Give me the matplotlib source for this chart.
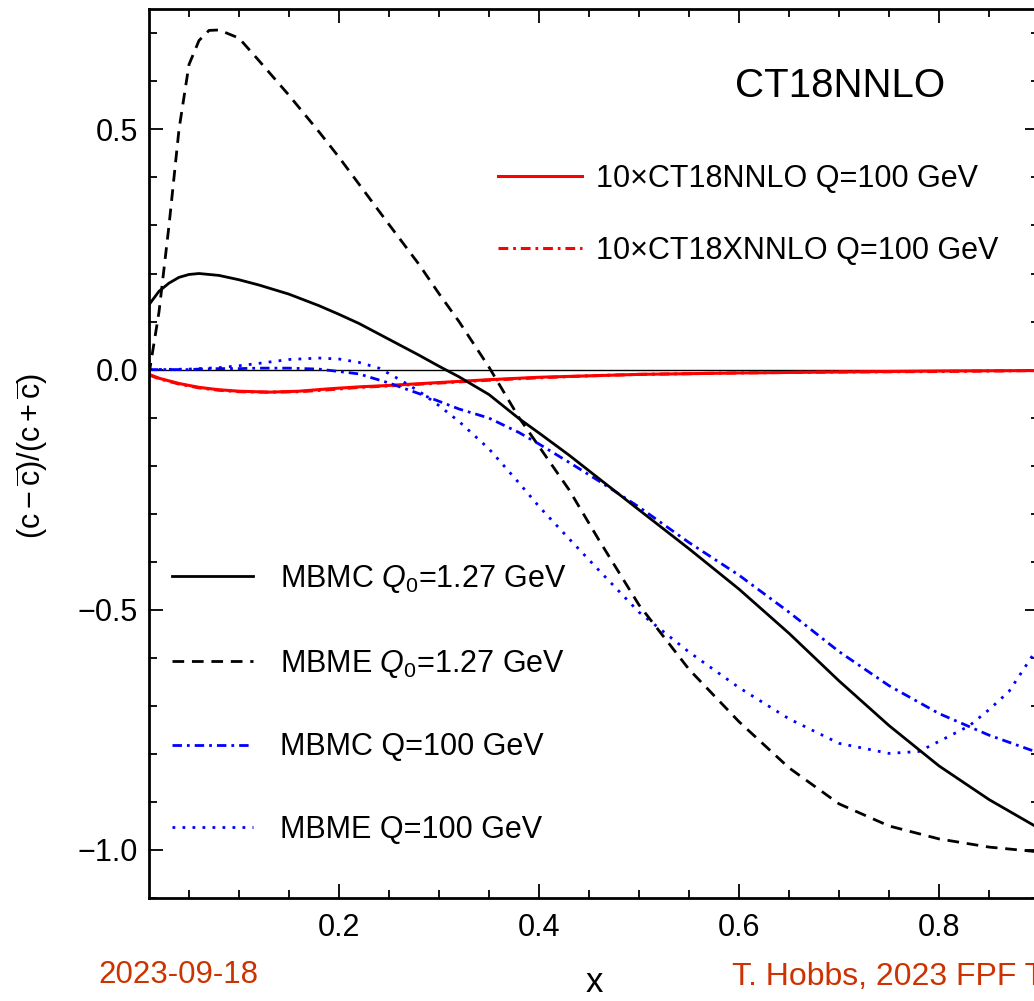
import numpy as np
import matplotlib.pyplot as plt
from matplotlib.lines import Line2D
from matplotlib.ticker import MultipleLocator, FixedLocator

plt.rcParams['font.family'] = ['Liberation Sans', 'DejaVu Sans']
plt.rcParams['mathtext.fontset'] = 'custom'
plt.rcParams['mathtext.rm'] = 'Liberation Sans'
plt.rcParams['mathtext.it'] = 'Liberation Sans:italic'
plt.rcParams['mathtext.bf'] = 'Liberation Sans:bold'

### Values: (c - cbar)/(c + cbar) vs x

x_grid = [0.01, 0.02, 0.03, 0.04, 0.05, 0.06, 0.08, 0.10, 0.12, 0.15, 0.18,
          0.20, 0.22, 0.25, 0.28, 0.30, 0.32, 0.35, 0.38, 0.40, 0.43, 0.46,
          0.50, 0.55, 0.60, 0.65, 0.70, 0.75, 0.80, 0.85, 0.90]

mbmc_q0 = [0.135, 0.163, 0.180, 0.192, 0.198, 0.200, 0.196, 0.187, 0.176, 0.157, 0.133,
           0.115, 0.096, 0.063, 0.030, 0.007, -0.015, -0.052, -0.102, -0.132, -0.178, -0.227,
           -0.292, -0.373, -0.457, -0.549, -0.648, -0.741, -0.825, -0.895, -0.955]

mbme_x = [0.01, 0.02, 0.03, 0.04, 0.05, 0.06, 0.07, 0.08, 0.10, 0.12, 0.15, 0.18,
          0.20, 0.22, 0.25, 0.28, 0.30, 0.32, 0.35, 0.38, 0.40, 0.43, 0.46,
          0.50, 0.55, 0.60, 0.65, 0.70, 0.75, 0.80, 0.85, 0.90]
mbme_q0 = [-0.010, 0.120, 0.300, 0.500, 0.635, 0.685, 0.706, 0.707, 0.690, 0.643, 0.571, 0.495,
           0.442, 0.386, 0.302, 0.219, 0.158, 0.100, 0.005, -0.100, -0.160, -0.250, -0.355,
           -0.490, -0.624, -0.733, -0.829, -0.904, -0.950, -0.977, -0.994, -1.004]

mbmc_q100 = [0.0, 0.0, 0.0, 0.0, 0.0, 0.001, 0.002, 0.002, 0.003, 0.003, 0.001,
             -0.004, -0.009, -0.028, -0.050, -0.066, -0.082, -0.101, -0.131, -0.155, -0.193, -0.232,
             -0.286, -0.360, -0.428, -0.505, -0.587, -0.658, -0.716, -0.761, -0.798]

mbme_q100_x = [0.01, 0.05, 0.08, 0.10, 0.12, 0.15, 0.18, 0.20, 0.22, 0.24, 0.26, 0.28,
               0.30, 0.32, 0.35, 0.38, 0.40, 0.43, 0.46, 0.50, 0.55, 0.60, 0.65, 0.70,
               0.75, 0.78, 0.80, 0.83, 0.85, 0.87, 0.90]
mbme_q100 = [0.0, 0.001, 0.004, 0.008, 0.013, 0.021, 0.024, 0.022, 0.015, 0.003, -0.020, -0.045,
             -0.075, -0.108, -0.165, -0.236, -0.285, -0.352, -0.418, -0.505, -0.588, -0.662, -0.727, -0.778,
             -0.799, -0.795, -0.774, -0.742, -0.708, -0.670, -0.575]

red_x = [0.01, 0.02, 0.04, 0.06, 0.08, 0.10, 0.13, 0.16, 0.19, 0.22, 0.25,
         0.30, 0.35, 0.40, 0.45, 0.50, 0.60, 0.70, 0.80, 0.90]
ct18nnlo = [-0.010, -0.018, -0.029, -0.037, -0.042, -0.045, -0.047, -0.045, -0.040, -0.036, -0.033,
            -0.027, -0.021, -0.016, -0.013, -0.010, -0.007, -0.005, -0.003, -0.002]
ct18xnnlo = [-0.011, -0.019, -0.030, -0.038, -0.043, -0.046, -0.047, -0.046, -0.042, -0.037, -0.034,
             -0.028, -0.022, -0.017, -0.013, -0.010, -0.007, -0.005, -0.004, -0.002]

### Figure

W, H = 1034, 1001
fig = plt.figure(figsize=(W / 100, H / 100), dpi=100)
ax = fig.add_axes([149 / W, 1 - 898 / H, 890 / W, 888.7 / H])

ax.axhline(0, color='black', linewidth=1.0, zorder=1)

ax.plot(red_x, ct18xnnlo, color='red', linewidth=2.2, linestyle=(0, (3.2, 1.6, 0.9, 1.6)))
ax.plot(red_x, ct18nnlo, color='red', linewidth=2.2)
ax.plot(x_grid, mbmc_q100, color='blue', linewidth=2.0, linestyle=(0, (3.4, 1.8, 1.0, 1.8)))
ax.plot(mbme_q100_x, mbme_q100, color='blue', linewidth=2.0, linestyle=(0, (1.0, 2.6)))
ax.plot(x_grid, mbmc_q0, color='black', linewidth=2.0)
ax.plot(mbme_x, mbme_q0, color='black', linewidth=2.0, linestyle=(0, (4.2, 2.8)))

ax.set_xlim(0.01, 0.9)
ax.set_ylim(-1.1, 0.75)

ax.xaxis.set_major_locator(FixedLocator([0.2, 0.4, 0.6, 0.8]))
ax.xaxis.set_minor_locator(MultipleLocator(0.05))
ax.yaxis.set_major_locator(FixedLocator([-1.0, -0.5, 0.0, 0.5]))
ax.yaxis.set_minor_locator(MultipleLocator(0.1))
ax.xaxis.set_major_formatter(lambda v, p: f"{v:.1f}")
ax.yaxis.set_major_formatter(lambda v, p: f"{v:.1f}".replace('-', '\u2212'))

ax.tick_params(which='both', direction='in', top=True, right=True, labelsize=22, width=1.3)
ax.tick_params(which='major', length=10)
ax.tick_params(which='minor', length=6)
ax.tick_params(axis='y', pad=8)
ax.tick_params(axis='x', pad=11)
for s in ax.spines.values():
    s.set_linewidth(2.0)

### Legends

h_black = [
    Line2D([], [], color='black', linewidth=2.0),
    Line2D([], [], color='black', linewidth=2.0, linestyle=(0, (4.2, 2.8))),
    Line2D([], [], color='blue', linewidth=2.0, linestyle=(0, (3.4, 1.8, 1.0, 1.8))),
    Line2D([], [], color='blue', linewidth=2.0, linestyle=(0, (1.0, 2.6))),
]
l_black = ['MBMC $Q_0$=1.27 GeV', 'MBME $Q_0$=1.27 GeV', 'MBMC Q=100 GeV', 'MBME Q=100 GeV']
leg1 = ax.legend(h_black, l_black, loc='center left', bbox_to_anchor=(172 / W, 1 - 704 / H),
                 bbox_transform=fig.transFigure, frameon=False, fontsize=22,
                 handlelength=2.65, handletextpad=0.9, labelspacing=1.72,
                 borderpad=0, borderaxespad=0)
ax.add_artist(leg1)

h_red = [
    Line2D([], [], color='red', linewidth=2.2),
    Line2D([], [], color='red', linewidth=2.2, linestyle=(0, (3.2, 1.6, 0.9, 1.6))),
]
l_red = ['10\u00d7CT18NNLO Q=100 GeV', '10\u00d7CT18XNNLO Q=100 GeV']
ax.legend(h_red, l_red, loc='center left', bbox_to_anchor=(498 / W, 1 - 215 / H),
          bbox_transform=fig.transFigure, frameon=False, fontsize=22,
          handlelength=2.75, handletextpad=0.45, labelspacing=1.38,
          borderpad=0, borderaxespad=0)

### Texts

fig.text(840 / W, 1 - 86 / H, 'CT18NNLO', fontsize=29, ha='center', va='center')
fig.text(32 / W, 1 - 456 / H,
         r'$(\mathrm{c}-\overline{\mathrm{c}})/(\mathrm{c}+\overline{\mathrm{c}})$',
         fontsize=22, rotation=90, ha='center', va='center')
fig.text(594 / W, 1 - 992 / H, 'x', fontsize=25, ha='center', va='baseline')
fig.text(98 / W, 1 - 975 / H, '2023-09-18', fontsize=22.5, color='#cc3300', ha='left', va='center')
fig.text(732 / W, 1 - 977 / H, 'T. Hobbs, 2023 FPF Theory Workshop', fontsize=23,
         color='#cc3300', ha='left', va='center')

fig.savefig('out.png', dpi=100)
